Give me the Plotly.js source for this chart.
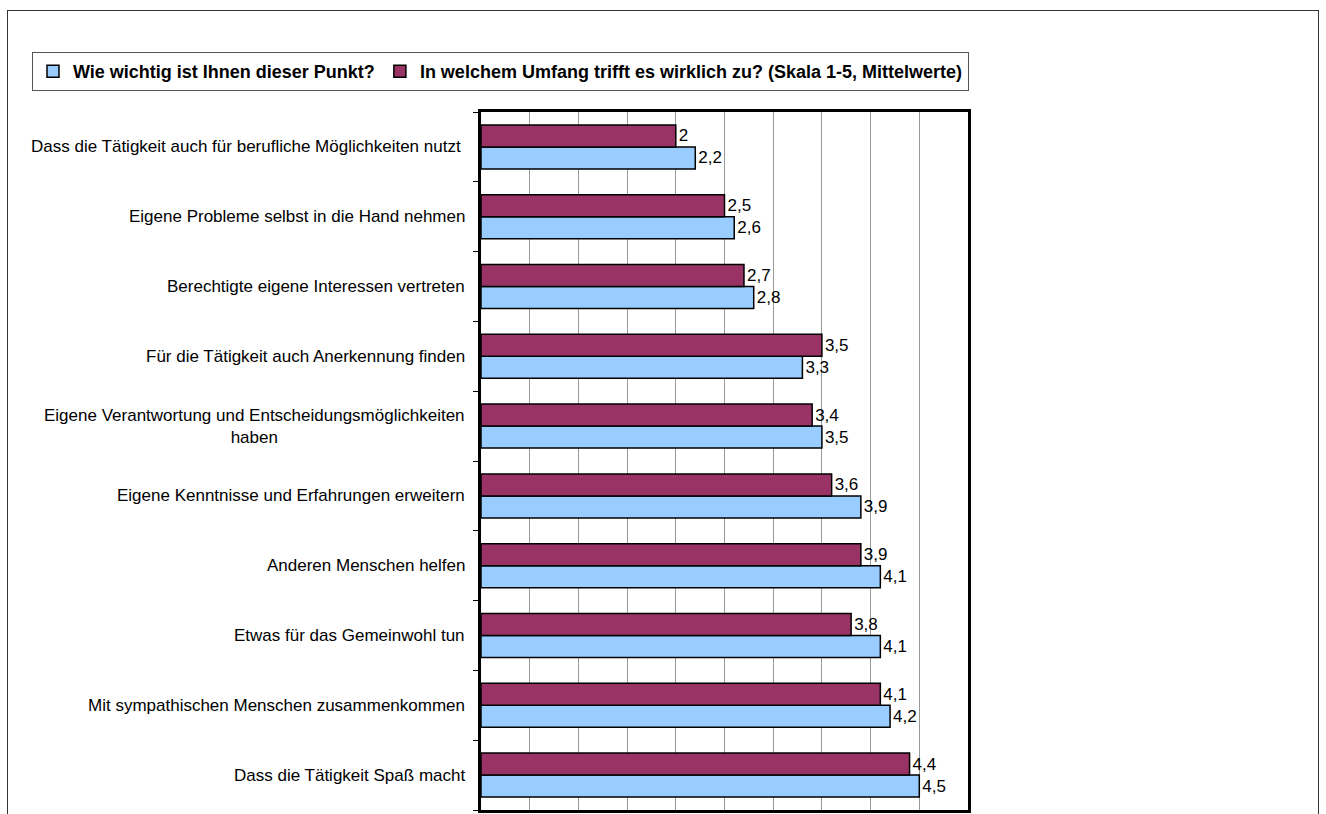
<!DOCTYPE html>
<html>
<head>
<meta charset="utf-8">
<script src="https://cdn.plot.ly/plotly-3.0.1.min.js"></script>
<style>
  html, body { margin: 0; padding: 0; background: #fff; }
  #chart { width: 1326px; height: 814px; }
  #frame { position: absolute; left: 7px; top: 10px; width: 1310px; height: 840px;
           border: 1.5px solid #333; pointer-events: none; }
</style>
</head>
<body>
<div id="chart"></div>
<div id="frame"></div>
<script>
const categories = [
  "Dass die Tätigkeit auch für berufliche Möglichkeiten nutzt ",
  "Eigene Probleme selbst in die Hand nehmen",
  "Berechtigte eigene Interessen vertreten",
  "Für die Tätigkeit auch Anerkennung finden",
  "Eigene Verantwortung und Entscheidungsmöglichkeiten<br>haben",
  "Eigene Kenntnisse und Erfahrungen erweitern",
  "Anderen Menschen helfen",
  "Etwas für das Gemeinwohl tun",
  "Mit sympathischen Menschen zusammenkommen",
  "Dass die Tätigkeit Spaß macht"
];
const seriesNames = [
  "Wie wichtig ist Ihnen dieser Punkt?",
  "In welchem Umfang trifft es wirklich zu? (Skala 1-5, Mittelwerte)"
];
const wichtig = [2.2, 2.6, 2.8, 3.3, 3.5, 3.9, 4.1, 4.1, 4.2, 4.5];
const zutreffend = [2.0, 2.5, 2.7, 3.5, 3.4, 3.6, 3.9, 3.8, 4.1, 4.4];

const fmt = v => String(v).replace('.', ',');
const FONT = "Liberation Sans, Arial, sans-serif";

const traces = [
  {
    type: 'bar', orientation: 'h', name: seriesNames[0],
    x: wichtig, y: categories,
    text: wichtig.map(fmt), textposition: 'outside', cliponaxis: false,
    textfont: { family: FONT, size: 17, color: '#000' },
    marker: { color: '#99CCFF', line: { color: '#000', width: 1.5 } },
    hoverinfo: 'x+name'
  },
  {
    type: 'bar', orientation: 'h', name: seriesNames[1],
    x: zutreffend, y: categories,
    text: zutreffend.map(fmt), textposition: 'outside', cliponaxis: false,
    textfont: { family: FONT, size: 17, color: '#000' },
    marker: { color: '#993366', line: { color: '#000', width: 1.5 } },
    hoverinfo: 'x+name'
  }
];

const annotations = categories.map(c => ({
  xref: 'paper', yref: 'y', x: 0, y: c, xanchor: 'right', yanchor: 'middle',
  xshift: -14, text: c, showarrow: false, align: 'center',
  font: { family: FONT, size: 17, color: '#000' }
}));

const layout = {
  width: 1326, height: 814,
  margin: { l: 481, r: 358, t: 112, b: 4, pad: 0 },
  paper_bgcolor: '#fff', plot_bgcolor: '#fff',
  font: { family: FONT, size: 17, color: '#000' },
  barmode: 'group', bargap: 0.37, bargroupgap: 0,
  showlegend: true,
  legend: {
    orientation: 'h', x: -0.922, xanchor: 'left', y: 1.086, yanchor: 'top',
    bordercolor: '#555', borderwidth: 1, bgcolor: '#fff',
    font: { family: FONT, size: 18, color: '#000', weight: 'bold' },
    itemwidth: 30, traceorder: 'normal'
  },
  xaxis: {
    range: [0, 5], dtick: 0.5, tick0: 0, showticklabels: false,
    showgrid: true, gridcolor: '#999', gridwidth: 1,
    zeroline: false, showline: true, linecolor: '#000', linewidth: 3, mirror: true,
    ticks: '', fixedrange: true
  },
  yaxis: {
    type: 'category', categoryorder: 'array', categoryarray: categories.slice().reverse(),
    showticklabels: false, ticks: 'outside', ticklen: 5, tickcolor: '#000', tickwidth: 1,
    tickson: 'boundaries', showgrid: false, zeroline: false,
    showline: true, linecolor: '#000', linewidth: 3, mirror: true, fixedrange: true
  },
  annotations: annotations
};

Plotly.newPlot('chart', traces, layout, { displayModeBar: false, staticPlot: true });
</script>
</body>
</html>
